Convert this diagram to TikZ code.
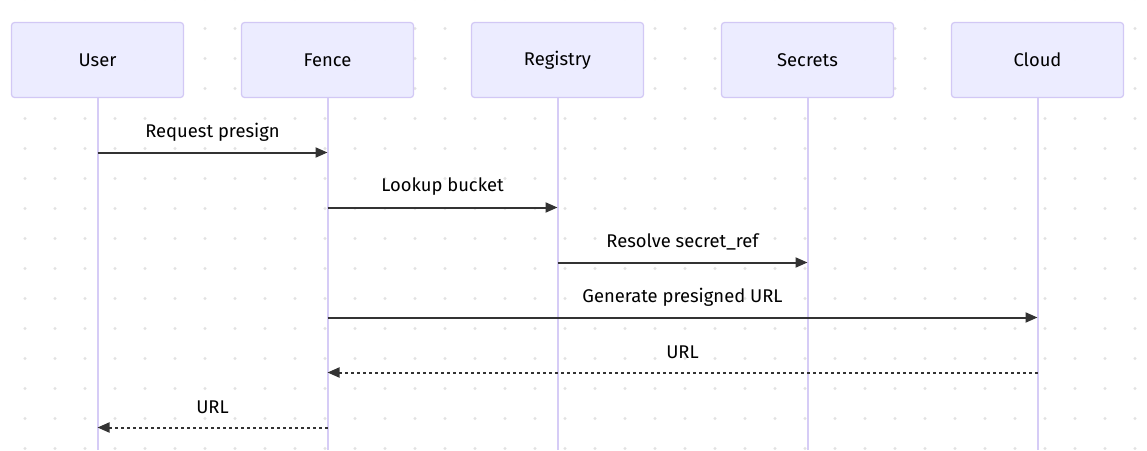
\documentclass[tikz,border=0pt]{standalone}
\usepackage{fontspec}
\setmainfont{Fira Sans}
\usetikzlibrary{arrows.meta}
\definecolor{actfill}{HTML}{ECECFF}
\definecolor{actdraw}{HTML}{D2C8F5}
\definecolor{lifeline}{HTML}{D6CCF6}
\definecolor{msg}{HTML}{333333}
\definecolor{griddot}{HTML}{E2E2E2}
\begin{document}
\begin{tikzpicture}[x=1pt,y=-1pt,
  actor/.style={draw=actdraw,fill=actfill,line width=1.2pt,rounded corners=3pt,
    minimum width=172pt,minimum height=75pt,inner sep=0pt,
    font=\fontsize{18.4}{21}\selectfont},
  life/.style={draw=lifeline,line width=2pt},
  msgline/.style={draw=msg,line width=2pt,-{Triangle[length=12pt,width=10pt]}},
  retline/.style={msgline,dash pattern=on 3pt off 3pt},
  msglabel/.style={font=\fontsize{18.4}{21}\selectfont,text=black,inner sep=0pt}]
\useasboundingbox (0,0) rectangle (1147,450);
\fill[white] (0,0) rectangle (1147,450);
% dotted background
\foreach \gx in {25,55,...,1145}{
  \foreach \gy in {-1.5,28.5,...,450}{
    \fill[griddot] (\gx,\gy) circle (1.6pt);
  }
}
% lifeline bottom coordinates
\coordinate (ub) at (97.5,450);
\coordinate (fb) at (327.5,450);
\coordinate (rb) at (557.5,450);
\coordinate (sb) at (807.5,450);
\coordinate (cb) at (1037.5,450);
% actors
\node[actor] (u) at (97.5,60) {User};
\node[actor] (f) at (327.5,60) {Fence};
\node[actor] (r) at (557.5,60) {Registry};
\node[actor] (s) at (807.5,60) {Secrets};
\node[actor] (c) at (1037.5,60) {Cloud};
\draw[life] (u.south) -- (ub);
\draw[life] (f.south) -- (fb);
\draw[life] (r.south) -- (rb);
\draw[life] (s.south) -- (sb);
\draw[life] (c.south) -- (cb);
% message endpoints
\coordinate (m1a) at (97.5,152.5);  \coordinate (m1b) at (327.5,152.5);
\coordinate (m2a) at (327.5,207.5); \coordinate (m2b) at (557.5,207.5);
\coordinate (m3a) at (557.5,262.5); \coordinate (m3b) at (807.5,262.5);
\coordinate (m4a) at (327.5,317.5); \coordinate (m4b) at (1037.5,317.5);
\coordinate (m5a) at (1037.5,372.5);\coordinate (m5b) at (327.5,372.5);
\coordinate (m6a) at (327.5,427.5); \coordinate (m6b) at (97.5,427.5);
\draw[msgline] (m1a) -- (m1b);
\draw[msgline] (m2a) -- (m2b);
\draw[msgline] (m3a) -- (m3b);
\draw[msgline] (m4a) -- (m4b);
\draw[retline] (m5a) -- (m5b);
\draw[retline] (m6a) -- (m6b);
% labels
\node[msglabel] (l1) at (212.5,132) {Request presign};
\node[msglabel] (l2) at (442.5,187) {Lookup bucket};
\node[msglabel] (l3) at (682.5,242) {Resolve secret\_ref};
\node[msglabel] (l4) at (682.5,297) {Generate presigned URL};
\node[msglabel] (l5) at (682.5,352) {URL};
\node[msglabel] (l6) at (212.5,407) {URL};
\end{tikzpicture}
\end{document}
